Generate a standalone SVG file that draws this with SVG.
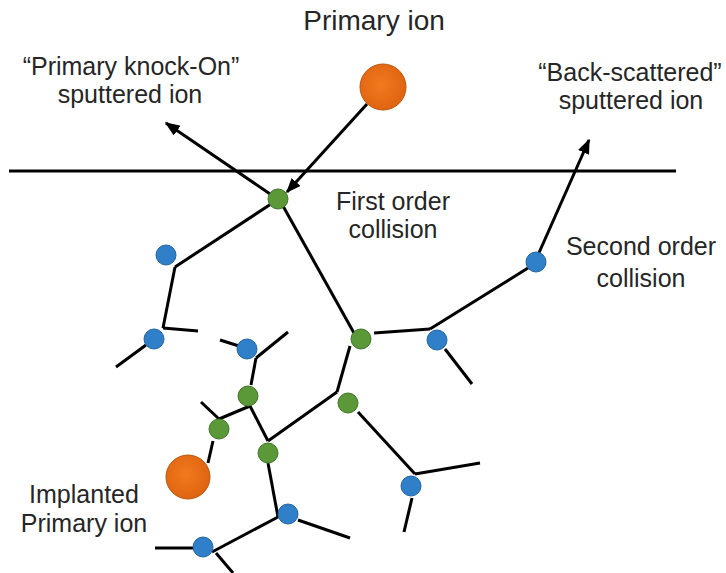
<svg xmlns="http://www.w3.org/2000/svg" width="726" height="573" viewBox="0 0 726 573">
<style>
.t{font-family:"Liberation Sans",Arial,sans-serif;font-size:25px;fill:#262626;text-anchor:middle}
.ln{stroke:#000;stroke-width:3;fill:none;stroke-linecap:butt}
.g{fill:#5a9838;stroke:#41742a;stroke-width:1}
.b{fill:#2f80c8;stroke:#23649f;stroke-width:1}
.o{fill:url(#og);stroke:#b8560c;stroke-width:1}
</style>
<defs>
<radialGradient id="og" cx="0.45" cy="0.45" r="0.6">
<stop offset="0" stop-color="#f47a1e"/>
<stop offset="1" stop-color="#dc6210"/>
</radialGradient>
<marker id="ah" markerWidth="5" markerHeight="4" refX="4.5" refY="2" orient="auto" markerUnits="strokeWidth">
<path d="M0,0 L5,2 L0,4 Z" fill="#000"/>
</marker>
</defs>
<rect width="726" height="573" fill="#fff"/>
<g id="connectors">
<line class="ln" x1="9" y1="171" x2="676" y2="171"/>
<line class="ln" x1="367" y1="104" x2="287" y2="192" marker-end="url(#ah)"/>
<line class="ln" x1="276" y1="198" x2="166" y2="123" marker-end="url(#ah)"/>
<line class="ln" x1="538" y1="255" x2="589" y2="140" marker-end="url(#ah)"/>
<line class="ln" x1="271" y1="204" x2="175" y2="267"/>
<line class="ln" x1="175" y1="267" x2="163" y2="328"/>
<line class="ln" x1="163" y1="328" x2="198" y2="331"/>
<line class="ln" x1="146" y1="345" x2="116" y2="367"/>
<line class="ln" x1="283" y1="206" x2="354" y2="333"/>
<line class="ln" x1="374" y1="333" x2="430" y2="329"/>
<line class="ln" x1="430" y1="329" x2="528" y2="268"/>
<line class="ln" x1="445" y1="349" x2="472" y2="384"/>
<line class="ln" x1="350" y1="346" x2="337" y2="392"/>
<line class="ln" x1="337" y1="392" x2="268" y2="441"/>
<line class="ln" x1="358" y1="412" x2="415" y2="474"/>
<line class="ln" x1="415" y1="474" x2="480" y2="463"/>
<line class="ln" x1="412" y1="498" x2="404" y2="532"/>
<line class="ln" x1="268" y1="463" x2="278" y2="517"/>
<line class="ln" x1="298" y1="520" x2="350" y2="538"/>
<line class="ln" x1="278" y1="517" x2="212" y2="552"/>
<line class="ln" x1="155" y1="548" x2="195" y2="548"/>
<line class="ln" x1="216" y1="553" x2="233" y2="573"/>
<line class="ln" x1="220" y1="340" x2="239" y2="346"/>
<line class="ln" x1="256" y1="358" x2="288" y2="332"/>
<line class="ln" x1="256" y1="358" x2="251" y2="385"/>
<line class="ln" x1="250" y1="406" x2="219" y2="419"/>
<line class="ln" x1="219" y1="419" x2="201" y2="402"/>
<line class="ln" x1="250" y1="406" x2="268" y2="441"/>
<line class="ln" x1="213" y1="441" x2="208" y2="463"/>
</g>
<g id="primary-ion"><circle class="o" cx="383" cy="87" r="23"/></g>
<g id="implanted-ion"><circle class="o" cx="188" cy="477" r="22"/></g>
<g id="g1"><circle class="g" cx="278" cy="199" r="10"/></g>
<g id="g2"><circle class="g" cx="361" cy="339" r="10"/></g>
<g id="g3"><circle class="g" cx="348" cy="403" r="10"/></g>
<g id="g4"><circle class="g" cx="268" cy="453" r="10"/></g>
<g id="g5"><circle class="g" cx="248" cy="396" r="10"/></g>
<g id="g6"><circle class="g" cx="219" cy="429" r="10"/></g>
<g id="b1"><circle class="b" cx="166" cy="255" r="10"/></g>
<g id="b2"><circle class="b" cx="154" cy="339" r="10"/></g>
<g id="b3"><circle class="b" cx="437" cy="340" r="10"/></g>
<g id="b4"><circle class="b" cx="536" cy="262" r="10"/></g>
<g id="b5"><circle class="b" cx="411" cy="486" r="10"/></g>
<g id="b6"><circle class="b" cx="288" cy="514" r="10"/></g>
<g id="b7"><circle class="b" cx="203" cy="547" r="10"/></g>
<g id="b8"><circle class="b" cx="247" cy="349" r="10"/></g>
<g id="labels">
<text class="t" x="374" y="30" style="font-size:28px">Primary ion</text>
<text class="t" x="131" y="75">“Primary knock-On”</text>
<text class="t" x="130" y="103">sputtered ion</text>
<text class="t" x="630" y="81">“Back-scattered”</text>
<text class="t" x="631" y="109">sputtered ion</text>
<text class="t" x="393" y="210">First order</text>
<text class="t" x="393" y="238">collision</text>
<text class="t" x="641" y="255">Second order</text>
<text class="t" x="641" y="287">collision</text>
<text class="t" x="84" y="503">Implanted</text>
<text class="t" x="84" y="532">Primary ion</text>
</g>
</svg>
